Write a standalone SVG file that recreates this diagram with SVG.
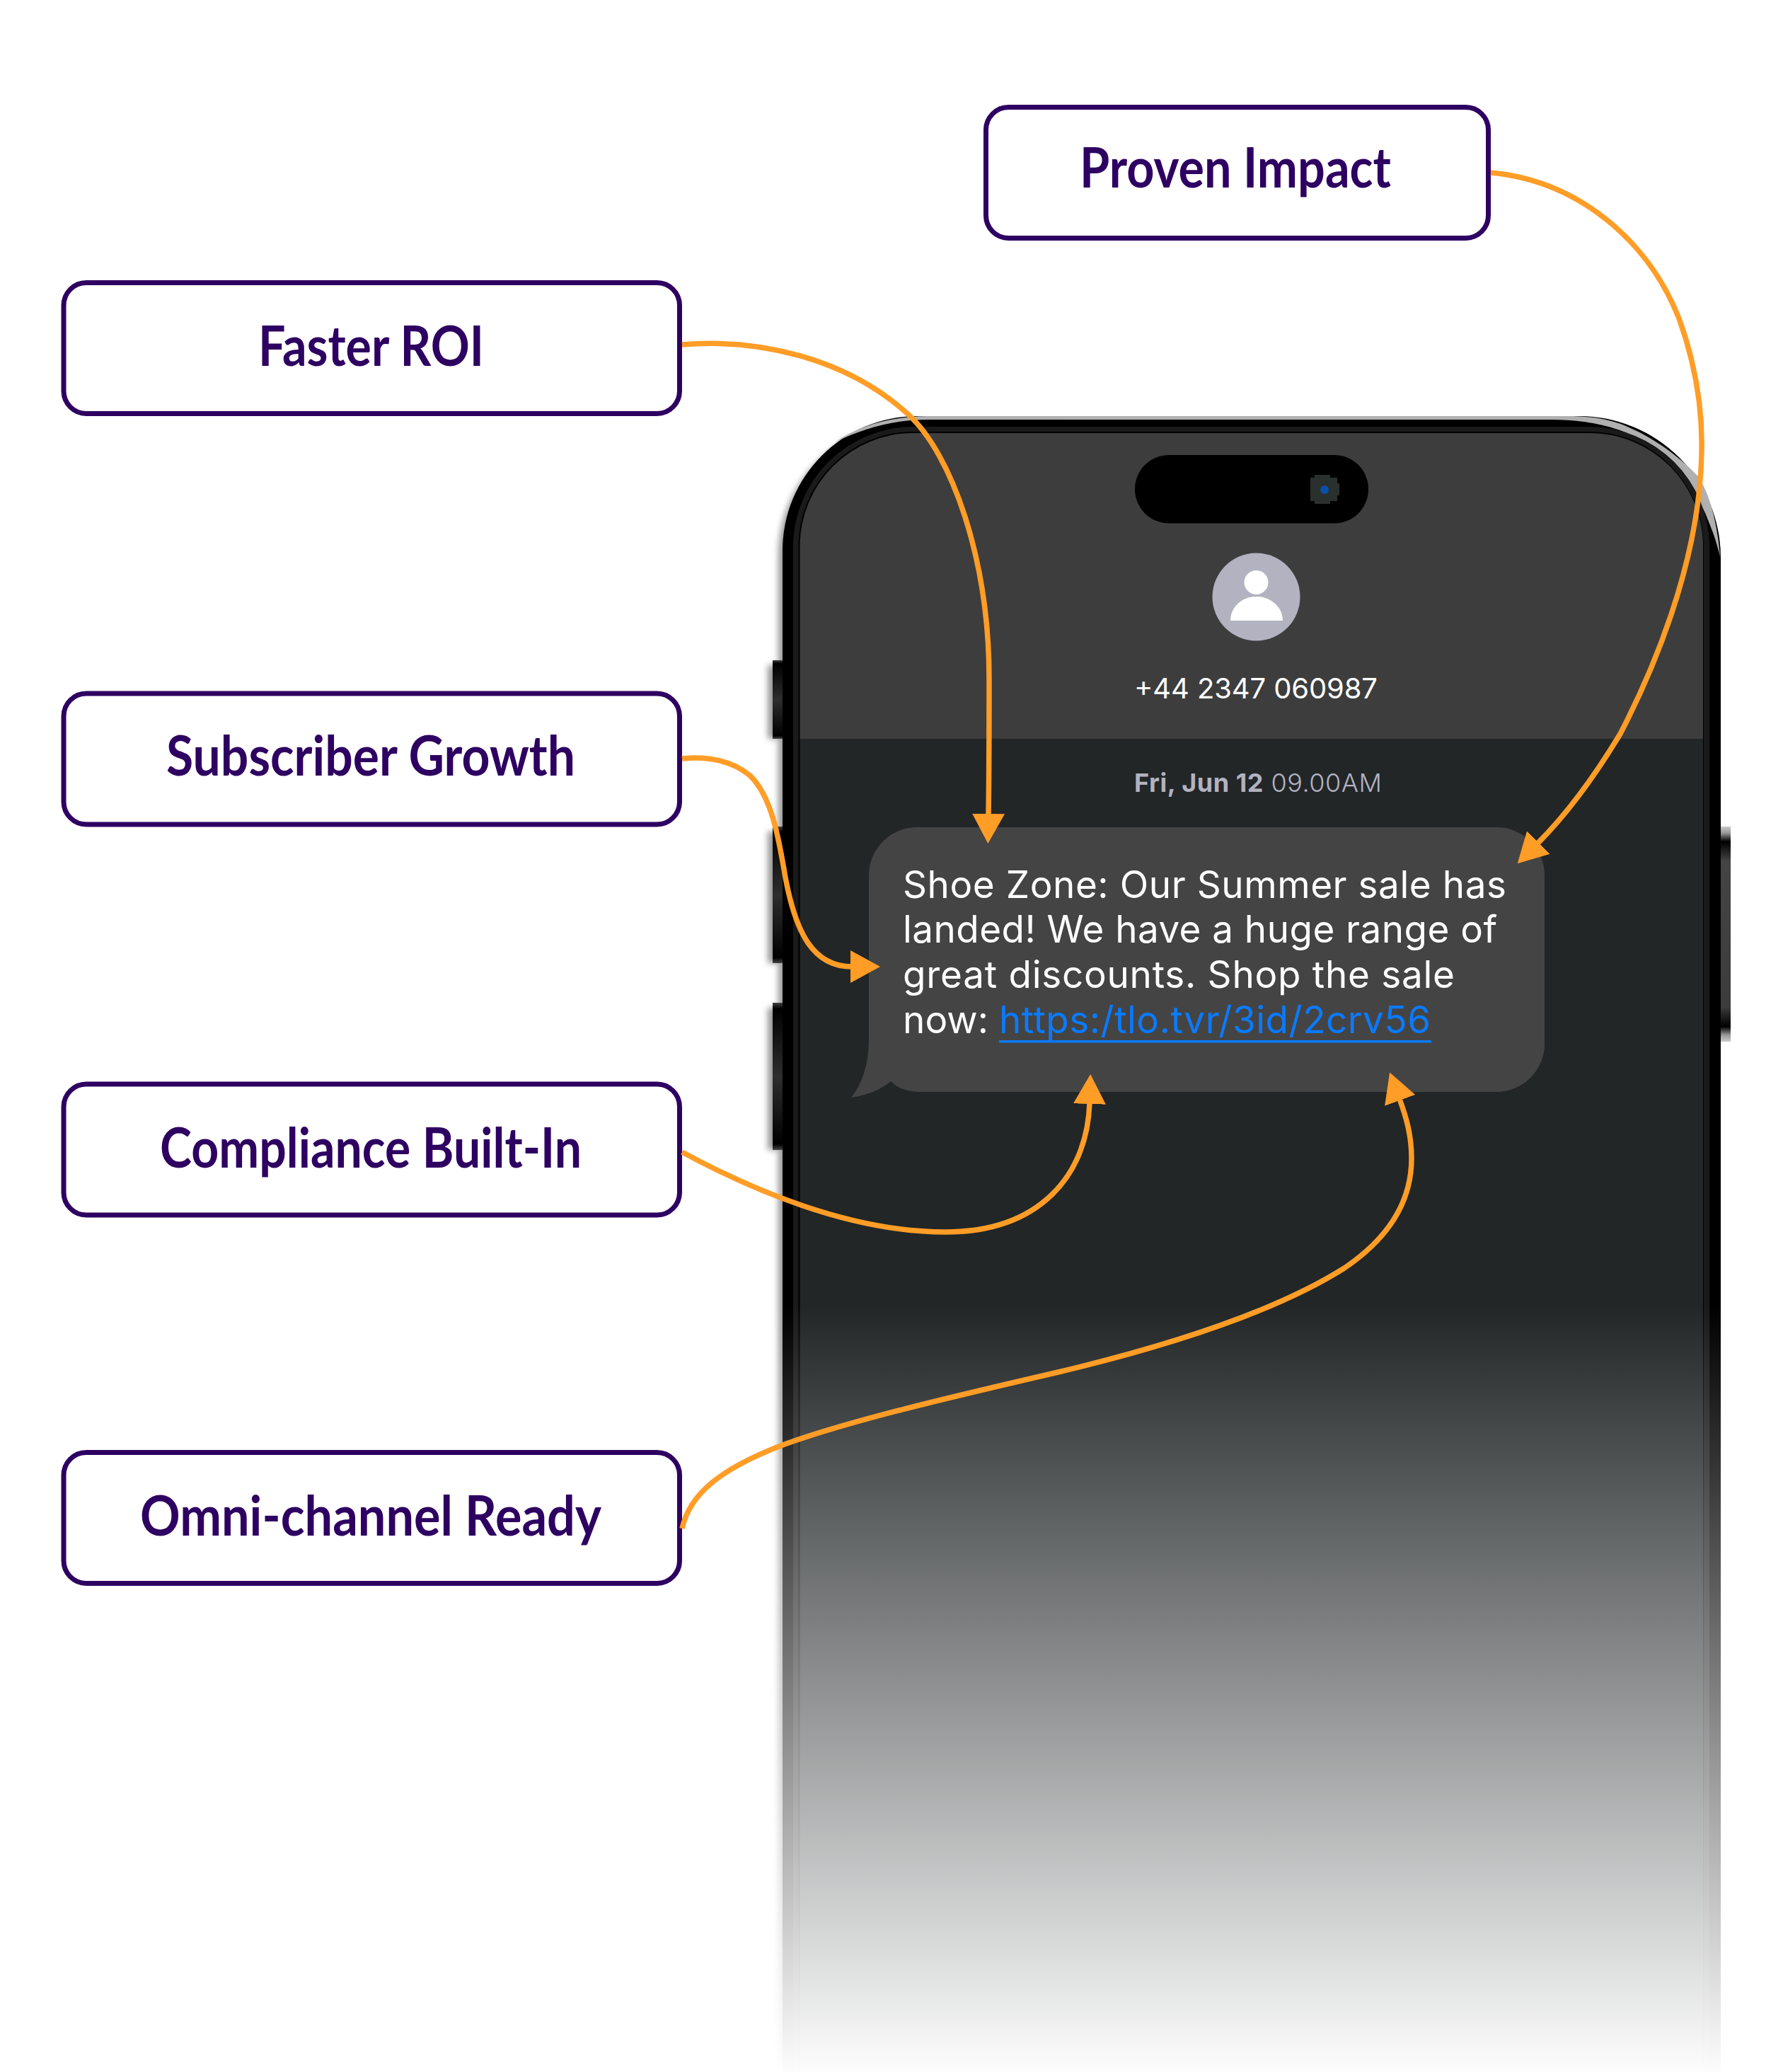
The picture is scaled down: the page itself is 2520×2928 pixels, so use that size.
<svg xmlns="http://www.w3.org/2000/svg" width="2520" height="2928" viewBox="0 0 2520 2928">
<style>
.box{fill:#fff;stroke:#2e0061;stroke-width:7}
.lbl{font-family:"Lato","Liberation Sans",sans-serif;font-weight:700;font-size:78px;fill:#2e0061}
.conn{fill:none;stroke:#ff9d27;stroke-width:7.500;marker-end:url(#arrow)}
.ui{font-family:"Inter","Liberation Sans",sans-serif}
.msg{font-size:53px;fill:#fff}
.btn{fill:url(#btnGrad)}
</style>
<defs>
<marker id="arrow" markerUnits="userSpaceOnUse" markerWidth="46" markerHeight="50" refX="2" refY="25" orient="auto"><path d="M0 2L42 25L0 48Z" fill="#ff9d27"/></marker>
<linearGradient id="btnGrad" x1="0" y1="0" x2="0" y2="1"><stop offset="0" stop-color="#444"/><stop offset=".04" stop-color="#000"/><stop offset=".5" stop-color="#2e2e2e"/><stop offset=".96" stop-color="#000"/><stop offset="1" stop-color="#444"/></linearGradient>
<linearGradient id="btnRight" x1="0" y1="0" x2="0" y2="1"><stop offset="0" stop-color="#ccc"/><stop offset=".03" stop-color="#999"/><stop offset=".07" stop-color="#000"/><stop offset=".16" stop-color="#444"/><stop offset=".84" stop-color="#3c3c3c"/><stop offset=".93" stop-color="#000"/><stop offset=".97" stop-color="#999"/><stop offset="1" stop-color="#ccc"/></linearGradient>
<linearGradient id="fade" x1="0" y1="0" x2="0" y2="1"><stop offset="0" stop-color="#fff" stop-opacity="0"/><stop offset="1" stop-color="#fff" stop-opacity=".99"/></linearGradient>
<filter id="blur" x="-5%" y="-5%" width="110%" height="110%"><feGaussianBlur stdDeviation="4"/></filter>
<filter id="blurBtn" x="-100%" y="-20%" width="300%" height="140%"><feGaussianBlur stdDeviation="4"/></filter>
<clipPath id="screenClip"><path d="M1130.500 2928V772A160 160 0 0 1 1290.500 612H2247A160 160 0 0 1 2407 772V2928Z"/></clipPath>
</defs>
<rect width="2520" height="2928" fill="#fff"/>
<g id="phone">
<path d="M1100 2928V786A190 190 0 0 1 1290 596H1500V2928Z" fill="#999" filter="url(#blur)"/>
<rect x="1085" y="940" width="20" height="104" fill="#999" filter="url(#blurBtn)"/>
<rect x="1085" y="1175" width="20" height="186" fill="#999" filter="url(#blurBtn)"/>
<rect x="1085" y="1424" width="20" height="201" fill="#999" filter="url(#blurBtn)"/>
<rect class="btn" x="1092" y="933" width="16" height="111"/>
<rect class="btn" x="1092" y="1168" width="16" height="193"/>
<rect class="btn" x="1092" y="1417" width="16" height="208"/>
<rect x="2430" y="1168" width="16" height="304" fill="url(#btnRight)"/>
<path d="M1106 2928V778A190 190 0 0 1 1296 588H2232A200 200 0 0 1 2432 788V2928Z" fill="#000"/>
<path d="M1180 625C1215 600 1260 589 1310 588H2223C2260 589 2282 595 2300 603C2345 622 2380 652 2400 673C2418 700 2428 745 2431 787C2425 760 2418 745 2410 725C2390 680 2350 640 2300 612C2265 598 2230 593 2190 593H1310C1265 593 1220 605 1180 625Z" fill="#b0b0b0"/>
<path d="M1121 2928V773A170 170 0 0 1 1291 603H2246A170 170 0 0 1 2416 773V2928Z" fill="#1a1a1a"/>
<path d="M1128.500 2928V772A162 162 0 0 1 1290.500 610H2246A162 162 0 0 1 2408 772V2928Z" fill="#000"/>
<g clip-path="url(#screenClip)">
<rect x="1130" y="612" width="1277" height="432" fill="#3d3d3d"/>
<rect x="1130" y="1044" width="1277" height="1884" fill="#222627"/>
</g>
<rect x="1604" y="643" width="330" height="96.500" rx="48" fill="#000"/>
<path d="M1852 675H1858V671H1880V675H1890V683H1893V700H1890V708H1880V712H1858V708H1852Z" fill="#2a302e"/>
<circle cx="1872" cy="692" r="6" fill="#0a4fa8"/>
<circle cx="1775.500" cy="843.500" r="62" fill="#b2b2c0"/>
<circle cx="1775.500" cy="823" r="17" fill="#fff"/>
<path d="M1739 877C1739 858 1755 843 1775.500 843C1796 843 1813 858 1813 877Z" fill="#fff"/>
<text class="ui" x="1603" y="987" font-size="40" fill="#fff" textLength="344">+44 2347 060987</text>
<text class="ui" x="1603" y="1119" font-size="36" fill="#b2b2c0" textLength="350"><tspan font-weight="700">Fri, Jun 12</tspan> <tspan font-weight="300">09.00AM</tspan></text>
<path d="M1296 1169H2115A68 68 0 0 1 2183 1237V1475A68 68 0 0 1 2115 1543H1303C1288 1543 1270 1540 1259 1528C1245 1540 1225 1548 1203 1551C1220 1530 1228 1500 1228 1468V1237A68 68 0 0 1 1296 1169Z" fill="#444"/>
<g class="ui msg">
<text x="1276" y="1269" textLength="853">Shoe Zone: Our Summer sale has</text>
<text x="1276" y="1332" textLength="840">landed! We have a huge range of</text>
<text x="1276" y="1396" textLength="780">great discounts. Shop the sale</text>
<text x="1276" y="1460" textLength="121">now:</text>
<text x="1412" y="1460" textLength="610" fill="#0a7aff">https:/tlo.tvr/3id/2crv56</text>
</g>
<rect x="1412" y="1470" width="611" height="3.500" fill="#0a7aff"/>
<rect x="1075" y="1843" width="1385" height="1085" fill="url(#fade)"/>
</g>
<g id="node-proven-impact"><rect class="box" x="1393.500" y="151.500" width="710" height="185" rx="32"/><text class="lbl" x="1526" y="265" textLength="440" lengthAdjust="spacingAndGlyphs">Proven Impact</text></g>
<g id="node-faster-roi"><rect class="box" x="90" y="399.500" width="870.500" height="185" rx="32"/><text class="lbl" x="365" y="517" textLength="319" lengthAdjust="spacingAndGlyphs">Faster ROI</text></g>
<g id="node-subscriber-growth"><rect class="box" x="90" y="980" width="870.500" height="185" rx="32"/><text class="lbl" x="235" y="1096" textLength="578" lengthAdjust="spacingAndGlyphs">Subscriber Growth</text></g>
<g id="node-compliance"><rect class="box" x="90" y="1532" width="870.500" height="185" rx="32"/><text class="lbl" x="226" y="1650" textLength="596" lengthAdjust="spacingAndGlyphs">Compliance Built-In</text></g>
<g id="node-omni-channel"><rect class="box" x="90" y="2052.500" width="870.500" height="185" rx="32"/><text class="lbl" x="198" y="2170" textLength="652" lengthAdjust="spacingAndGlyphs">Omni-channel Ready</text></g>
<g id="connectors">
<path class="conn" d="M964 487C1070 478 1195 505 1283 585C1345 641 1398 790 1398 960C1398 1030 1398 1090 1397 1152"/>
<path class="conn" d="M2107 244C2230 255 2330 340 2373 450C2400 525 2406 590 2405 637C2403 800 2330 960 2290 1037C2255 1095 2215 1150 2173 1192"/>
<path class="conn" d="M964 1072C1000 1068 1035 1075 1060 1096C1090 1125 1100 1180 1110 1240C1125 1320 1150 1366 1204 1366"/>
<path class="conn" d="M964 1628C1060 1680 1200 1741 1336 1741C1470 1741 1537 1660 1540 1558"/>
<path class="conn" d="M964 2160C975 2110 1020 2075 1106 2042C1200 2008 1340 1975 1500 1938C1650 1902 1800 1855 1900 1792C1965 1748 1995 1695 1995 1637C1995 1605 1988 1580 1978 1553"/>
</g>
</svg>
